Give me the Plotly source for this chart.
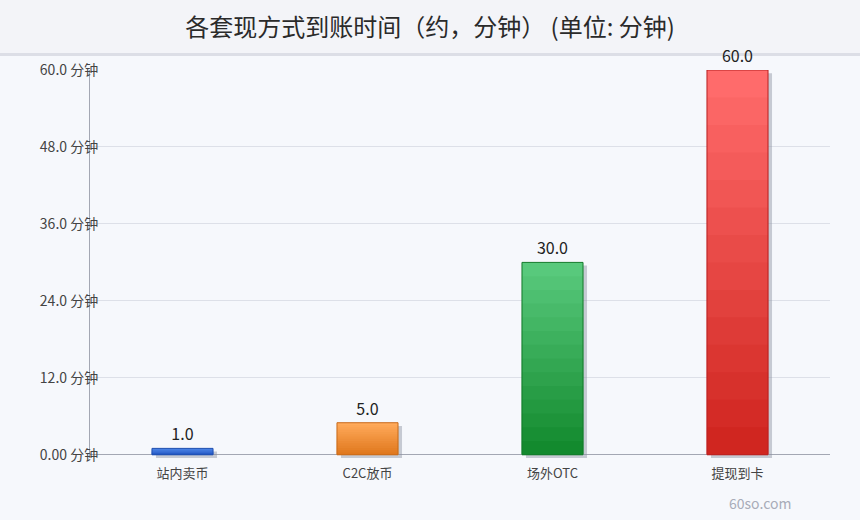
import plotly.graph_objects as go

# --- data ---
categories = ['站内卖币', 'C2C放币', '场外OTC', '提现到卡']
minutes = [1.0, 5.0, 30.0, 60.0]
ytick_vals = [0, 12, 24, 36, 48, 60]
ytick_text = ['0.00 分钟', '12.0 分钟', '24.0 分钟', '36.0 分钟', '48.0 分钟', '60.0 分钟']

# --- colours (top of bar, bottom of bar, border) ---
top_colors = ['#5088e8', '#ffaa5a', '#58c97c', '#ff6b6b']
bottom_colors = ['#2458c4', '#e0781e', '#138a2e', '#d02620']
border_colors = ['#1f4fb0', '#c86a1a', '#137a2a', '#b82020']

FONT = 'Noto Sans CJK SC'
W, H = 860, 520
L, R, T, B = 90, 30, 70, 62
BAR_W = 0.33
N_STEPS = 14


def hex_to_rgb(h):
    h = h.lstrip('#')
    return tuple(int(h[i:i + 2], 16) for i in (0, 2, 4))


def mix(c1, c2, t):
    a, b = hex_to_rgb(c1), hex_to_rgb(c2)
    return 'rgb(%d,%d,%d)' % tuple(round(a[i] + (b[i] - a[i]) * t) for i in range(3))


fig = go.Figure()

# drop shadow, nudged right and down a few pixels
px_per_cat = (W - L - R) / len(categories)
px_per_unit = (H - T - B) / 60.5
fig.add_trace(go.Bar(
    x=categories, y=minutes, base=-3.2 / px_per_unit,
    width=BAR_W, offset=-BAR_W / 2 + 4 / px_per_cat,
    marker=dict(color='rgba(140,146,162,0.45)', line=dict(width=0)),
    hoverinfo='skip', showlegend=False,
))

# stepped vertical gradient: full-height light bar, shorter darker bars on top
for k in range(N_STEPS):
    t = k / (N_STEPS - 1)
    fig.add_trace(go.Bar(
        x=categories,
        y=[v * (N_STEPS - k) / N_STEPS for v in minutes],
        width=BAR_W,
        marker=dict(color=[mix(top_colors[i], bottom_colors[i], t) for i in range(len(minutes))],
                    line=dict(width=0)),
        hoverinfo='skip', showlegend=False,
    ))

# outline + value labels
fig.add_trace(go.Bar(
    x=categories, y=minutes, width=BAR_W,
    marker=dict(color='rgba(0,0,0,0)', line=dict(color=border_colors, width=1)),
    text=['%.1f' % v for v in minutes], textposition='outside',
    textfont=dict(family=FONT, size=16, color='#222222'),
    cliponaxis=False, showlegend=False,
    hovertemplate='%{x}: %{y:.1f} 分钟<extra></extra>',
))


def px_x(p):
    return (p - L) / (W - L - R)


def px_y(p):
    return (H - B - p) / (H - T - B)


fig.update_layout(
    width=W, height=H,
    barmode='overlay',
    margin=dict(l=L, r=R, t=T, b=B),
    paper_bgcolor='#f4f6fa',
    plot_bgcolor='rgba(0,0,0,0)',
    font=dict(family=FONT, size=14, color='#444444'),
    title=dict(text='各套现方式到账时间（约，分钟） (单位: 分钟)',
               x=0.5, xanchor='center', y=1 - 28 / H, yanchor='middle',
               font=dict(family=FONT, size=24, color='#2a2a2a')),
    xaxis=dict(showgrid=False, showline=False, ticks='', ticklabelstandoff=6,
               tickfont=dict(family=FONT, size=13, color='#444444')),
    yaxis=dict(range=[-0.5, 60], tickvals=ytick_vals, ticktext=ytick_text,
               showgrid=True, gridcolor='#dde0e8', gridwidth=1,
               zeroline=True, zerolinecolor='#a3a7b3', zerolinewidth=1,
               showline=True, linecolor='#a3a7b3', linewidth=1,
               ticks='', ticklabelstandoff=-12,
               tickfont=dict(family=FONT, size=14, color='#444444')),
    shapes=[
        # title band and the rule under it
        dict(type='rect', xref='paper', yref='paper', layer='below',
             x0=px_x(0), x1=px_x(W), y0=px_y(53), y1=px_y(0),
             fillcolor='#f3f4f8', line=dict(width=0)),
        dict(type='rect', xref='paper', yref='paper', layer='below',
             x0=px_x(0), x1=px_x(W), y0=px_y(H), y1=px_y(56),
             fillcolor='#f6f8fc', line=dict(width=0)),
        dict(type='line', xref='paper', yref='paper', layer='below',
             x0=px_x(0), x1=px_x(W), y0=px_y(54.5), y1=px_y(54.5),
             line=dict(color='#dcdee6', width=3)),
    ],
    annotations=[
        dict(text='60so.com', xref='paper', yref='paper',
             x=px_x(760), y=px_y(503), xanchor='center', yanchor='middle',
             showarrow=False, font=dict(family=FONT, size=14, color='#a8acb8')),
    ],
)

# drop the browser's default body margin so the figure sits at the page origin
fig.write_html('out.html', config={'displayModeBar': False},
               post_script="document.body.style.margin='0';document.body.style.overflow='hidden';")
